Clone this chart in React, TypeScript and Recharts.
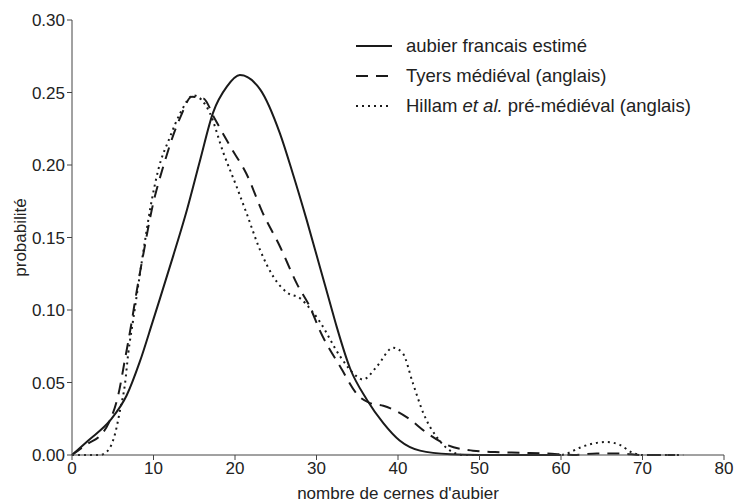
import React from 'react';
import { LineChart, Line, XAxis, YAxis } from 'recharts';

// x positions (nombre de cernes) and probabilities
const francaisX = [0, 2, 4.7, 6.7, 8.3, 9.9, 10.8, 12.4, 14.1, 15.7, 17.3, 19, 20.6, 23.1, 25.5, 27.1, 28.8, 30.4, 31.7, 32.5, 34.1, 36.2, 38.2, 40.2, 42.7, 46.4, 50, 55, 60];
const francaisY = [0, 0.010, 0.024, 0.041, 0.064, 0.092, 0.108, 0.137, 0.169, 0.203, 0.236, 0.254, 0.262, 0.252, 0.222, 0.194, 0.162, 0.130, 0.104, 0.088, 0.060, 0.038, 0.022, 0.010, 0.003, 0.0005, 0, 0, 0];

const tyersX = [0, 2, 3.4, 4.5, 5.7, 6.5, 7.3, 7.7, 8.8, 9.9, 11.2, 13.3, 14.7, 16.1, 17.5, 19.5, 21.4, 23.4, 25.5, 27.6, 29.2, 30.4, 32.9, 35.3, 36.5, 38.2, 41.1, 43.6, 46, 49.2, 51.9, 55, 58.3, 61.5, 64.4, 67.2, 70, 74];
const tyersY = [0, 0.008, 0.013, 0.022, 0.042, 0.066, 0.091, 0.105, 0.140, 0.172, 0.199, 0.233, 0.247, 0.246, 0.232, 0.212, 0.194, 0.167, 0.144, 0.118, 0.102, 0.086, 0.061, 0.040, 0.036, 0.034, 0.026, 0.015, 0.007, 0.003, 0.002, 0.0015, 0.001, 0, 0.001, 0.001, 0, 0];

const hillamX = [0, 3.4, 4.4, 5.3, 5.9, 6.5, 6.9, 7.5, 8.8, 9.6, 10.6, 12, 13.3, 14.9, 16.9, 18.6, 20.2, 21.4, 23.1, 24.7, 26.4, 28, 29.2, 30.4, 32.9, 35, 35.7, 37.4, 39.4, 40.6, 41.8, 43.1, 44.8, 46.4, 48, 55, 60, 60.7, 62.3, 64, 65.6, 67.2, 68.8, 70, 75];
const hillamY = [0, 0, 0.003, 0.015, 0.031, 0.049, 0.070, 0.093, 0.142, 0.170, 0.197, 0.219, 0.236, 0.248, 0.236, 0.208, 0.185, 0.167, 0.141, 0.123, 0.112, 0.108, 0.101, 0.092, 0.068, 0.054, 0.052, 0.061, 0.074, 0.070, 0.050, 0.029, 0.012, 0.003, 0, 0, 0, 0.001, 0.005, 0.008, 0.009, 0.007, 0.0015, 0, 0];

const xTicks = [0, 10, 20, 30, 40, 50, 60, 70, 80];
const yTicks = [0, 0.05, 0.1, 0.15, 0.2, 0.25, 0.3];

const INK = '#1a1a1a';
const FONT = '"Liberation Sans", Arial, sans-serif';

const toPoints = (xs: number[], ys: number[]) => xs.map((x, i) => ({ x, y: ys[i] }));

const series = [
  { key: 'francais', data: toPoints(francaisX, francaisY), dash: undefined as string | undefined },
  { key: 'tyers', data: toPoints(tyersX, tyersY), dash: '12 8' },
  { key: 'hillam', data: toPoints(hillamX, hillamY), dash: '2 4' },
];

const legendRows = [
  { dash: undefined as string | undefined, label: <>aubier francais estimé</> },
  { dash: '12 8', label: <>Tyers médiéval (anglais)</> },
  { dash: '2 4', label: <>Hillam <i>et al.</i> pré-médiéval (anglais)</> },
];

// legend drawn over the plot, top right, as in the figure
function LegendBox() {
  return (
    <div style={{ position: 'absolute', left: 354, top: 31, fontFamily: FONT, fontSize: 18.5, color: '#222' }}>
      {legendRows.map((r, i) => (
        <div key={i} style={{ display: 'flex', alignItems: 'center', height: 30 }}>
          <svg width={40} height={10} style={{ marginRight: 12 }}>
            <line x1={2} y1={5} x2={38} y2={5} stroke={INK} strokeWidth={2} strokeDasharray={r.dash} />
          </svg>
          <span>{r.label}</span>
        </div>
      ))}
    </div>
  );
}

export default function App() {
  return (
    <div style={{ position: 'absolute', left: 0, top: 0, width: 751, height: 502, background: '#fff' }}>
      <LineChart width={751} height={502} margin={{ top: 20, right: 27, left: 0, bottom: 0 }}>
        <XAxis
          type="number"
          dataKey="x"
          domain={[0, 80]}
          ticks={xTicks}
          height={47}
          tick={{ fill: '#222', fontSize: 17, fontFamily: FONT }}
          tickLine={{ stroke: '#444' }}
          axisLine={{ stroke: '#444' }}
          tickSize={5}
          allowDuplicatedCategory={false}
          label={{ value: "nombre de cernes d'aubier", position: 'insideBottom', offset: 3, style: { fill: '#222', fontSize: 17, fontFamily: FONT } }}
        />
        <YAxis
          type="number"
          domain={[0, 0.3]}
          ticks={yTicks}
          width={72}
          tickFormatter={(v: number) => v.toFixed(2)}
          tick={{ fill: '#222', fontSize: 17, fontFamily: FONT }}
          tickLine={{ stroke: '#444' }}
          axisLine={{ stroke: '#444' }}
          tickSize={5}
          label={{ value: 'probabilité', angle: -90, position: 'insideLeft', offset: 20, style: { textAnchor: 'middle', fill: '#222', fontSize: 17, fontFamily: FONT } }}
        />
        {series.map((s) => (
          <Line
            key={s.key}
            data={s.data}
            dataKey="y"
            type="monotone"
            stroke={INK}
            strokeWidth={2}
            strokeDasharray={s.dash}
            dot={false}
            activeDot={false}
            isAnimationActive={false}
          />
        ))}
      </LineChart>
      <LegendBox />
    </div>
  );
}
